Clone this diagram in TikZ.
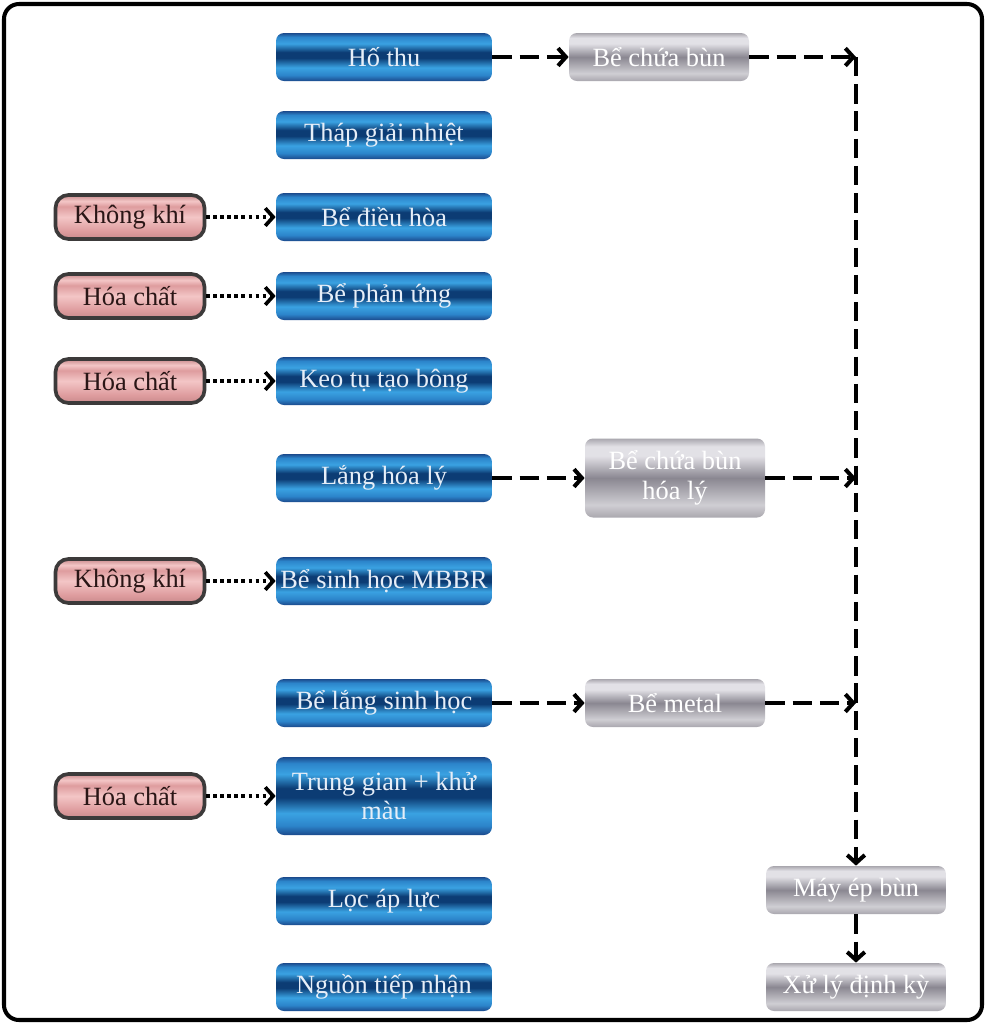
\documentclass[tikz,border=0pt]{standalone}
\usepackage{fontspec}
\setmainfont{Liberation Serif}
\usepackage{xcolor}
\usepackage{tikz}
\usetikzlibrary{arrows.meta,shadings}

\definecolor{blueA}{HTML}{1B4A8C}
\definecolor{blueB}{HTML}{3AA2E2}
\definecolor{blueC}{HTML}{0C3C74}
\definecolor{blueD}{HTML}{2C84CA}
\definecolor{grayA}{HTML}{A9A7AE}
\definecolor{grayB}{HTML}{E2E1E6}
\definecolor{grayC}{HTML}{8A8791}
\definecolor{grayD}{HTML}{CFCED3}
\definecolor{pinkA}{HTML}{C98A8C}
\definecolor{pinkB}{HTML}{F3C6C6}
\definecolor{pinkC}{HTML}{DE9C9E}
\definecolor{pinkline}{HTML}{3C3A3A}
\definecolor{bluetext}{HTML}{E6EEF8}
\definecolor{pinktext}{HTML}{2A1616}

\pgfdeclareverticalshading{bluemetal}{100bp}{color(0bp)=(blueA); color(25bp)=(blueA);
  color(31bp)=(blueD); color(39bp)=(blueB); color(49bp)=(blueC); color(55bp)=(blueC);
  color(64bp)=(blueB); color(71bp)=(blueD); color(75bp)=(blueA); color(100bp)=(blueA)}
\pgfdeclareverticalshading{graymetal}{100bp}{color(0bp)=(grayA); color(25bp)=(grayA);
  color(33bp)=(grayD); color(50bp)=(grayC); color(64bp)=(grayB); color(70bp)=(grayB);
  color(75bp)=(grayA); color(100bp)=(grayA)}
\pgfdeclareverticalshading{pinkmetal}{100bp}{color(0bp)=(pinkA); color(25bp)=(pinkA);
  color(34bp)=(pinkC); color(50bp)=(pinkB); color(62bp)=(pinkC); color(68bp)=(pinkB);
  color(75bp)=(pinkA); color(100bp)=(pinkA)}

\begin{document}
\begin{tikzpicture}[
    boxfont/.style={font=\fontsize{15}{17}\selectfont},
    bluebox/.style={boxfont, rounded corners=0.16cm, shading=bluemetal, minimum width=4.32cm, minimum height=0.96cm, inner xsep=2pt, text=bluetext, align=center},
    graybox/.style={boxfont, rounded corners=0.16cm, shading=graymetal, minimum width=3.6cm, minimum height=0.96cm, text=white, align=center},
    pinkbox/.style={boxfont, draw=pinkline, line width=2.1pt, rounded corners=0.26cm, shading=pinkmetal, minimum width=2.98cm, minimum height=0.88cm, text=pinktext},
    dasharrow/.style={-{Straight Barb[length=4.5pt,width=10pt]}, line width=2.3pt, dash pattern=on 11pt off 4.5pt},
    dotarrow/.style={-{Straight Barb[length=4.5pt,width=10pt]}, line width=2.1pt, dash pattern=on 2pt off 2pt}
  ]
  \useasboundingbox (0,0) rectangle (19.72,-20.48);
  \draw[line width=2.3pt, rounded corners=0.3cm] (0.08,-0.08) rectangle (19.64,-20.4);

  % main line
  \node[bluebox] (hothu) at (7.68,-1.14) {Hố thu};
  \node[bluebox] (thap) at (7.68,-2.7) {Tháp giải nhiệt};
  \node[bluebox] (dieuhoa) at (7.68,-4.34) {Bể điều hòa};
  \node[bluebox] (phanung) at (7.68,-5.92) {Bể phản ứng};
  \node[bluebox] (keotu) at (7.68,-7.62) {Keo tụ tạo bông};
  \node[bluebox] (langhl) at (7.68,-9.56) {Lắng hóa lý};
  \node[bluebox] (mbbr) at (7.68,-11.62) {Bể sinh học MBBR};
  \node[bluebox] (langsh) at (7.68,-14.06) {Bể lắng sinh học};
  \node[bluebox, minimum height=1.56cm] (trunggian) at (7.68,-15.92) {Trung gian + khử\\màu};
  \node[bluebox] (loc) at (7.68,-18.02) {Lọc áp lực};
  \node[bluebox] (nguon) at (7.68,-19.74) {Nguồn tiếp nhận};

  % inputs
  \node[pinkbox] (kk1) at (2.6,-4.34) {Không khí};
  \node[pinkbox] (hc1) at (2.6,-5.92) {Hóa chất};
  \node[pinkbox] (hc2) at (2.6,-7.62) {Hóa chất};
  \node[pinkbox] (kk2) at (2.6,-11.62) {Không khí};
  \node[pinkbox] (hc3) at (2.6,-15.92) {Hóa chất};

  \draw[dotarrow] (kk1) -- (dieuhoa);
  \draw[dotarrow] (hc1) -- (phanung);
  \draw[dotarrow] (hc2) -- (keotu);
  \draw[dotarrow] (kk2) -- (mbbr);
  \draw[dotarrow] (hc3) -- (trunggian);

  % sludge line
  \node[graybox] (bun) at (13.18,-1.14) {Bể chứa bùn};
  \node[graybox, minimum height=1.58cm] (bunhl) at (13.5,-9.56) {Bể chứa bùn\\hóa lý};
  \node[graybox] (metal) at (13.5,-14.06) {Bể metal};
  \node[graybox] (epbun) at (17.12,-17.8) {Máy ép bùn};
  \node[graybox] (xuly) at (17.12,-19.74) {Xử lý định kỳ};

  \coordinate (j1) at (17.12,-1.14);
  \coordinate (j2) at (17.12,-9.56);
  \coordinate (j3) at (17.12,-14.06);

  \draw[dasharrow] (hothu) -- (bun);
  \draw[dasharrow] (langhl) -- (bunhl);
  \draw[dasharrow] (langsh) -- (metal);

  \draw[dasharrow] (bun) -- (j1);
  \draw[dasharrow] (bunhl) -- (j2);
  \draw[dasharrow] (metal) -- (j3);
  \draw[dasharrow] (j1) -- (epbun);
  \draw[dasharrow] (epbun) -- (xuly);
\end{tikzpicture}
\end{document}
